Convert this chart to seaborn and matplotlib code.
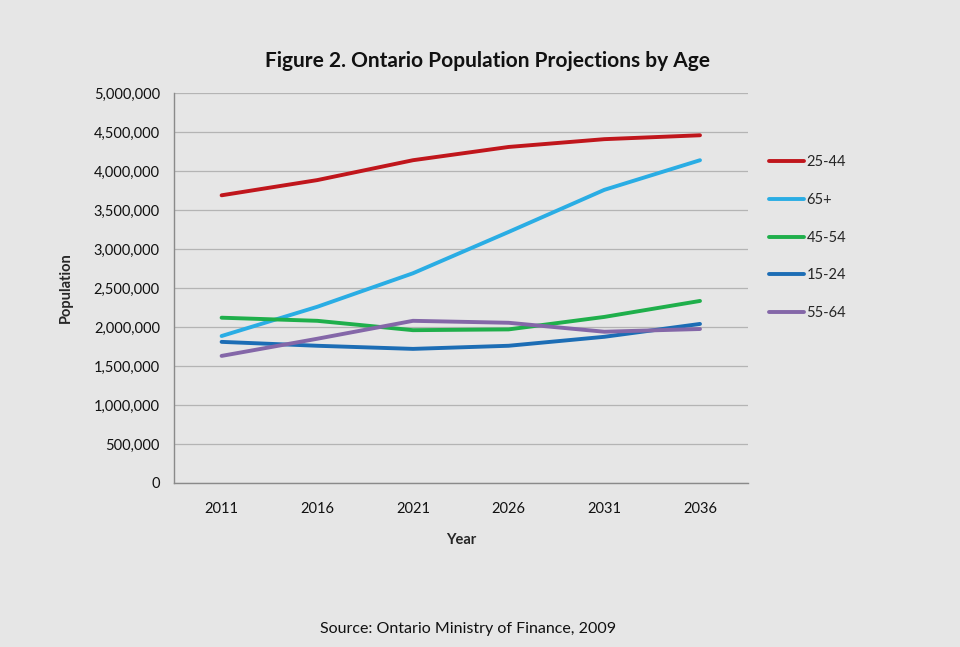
import pandas as pd
import numpy as np
import matplotlib
matplotlib.use('Agg')
import matplotlib.pyplot as plt
import seaborn as sns
from matplotlib.ticker import FuncFormatter, FixedLocator

# data
years = ['2011', '2016', '2021', '2026', '2031', '2036']
groups = ['25-44', '65+', '45-54', '15-24', '55-64']
pop_25_44 = [3690000, 3885000, 4140000, 4310000, 4410000, 4460000]
pop_65_plus = [1885000, 2260000, 2690000, 3220000, 3760000, 4140000]
pop_45_54 = [2120000, 2080000, 1960000, 1970000, 2130000, 2335000]
pop_15_24 = [1810000, 1760000, 1720000, 1760000, 1875000, 2040000]
pop_55_64 = [1630000, 1850000, 2080000, 2055000, 1940000, 1975000]
colors = ['#C0161C', '#2AADE4', '#1FAF4B', '#1C6DB5', '#8467A8']

df = pd.DataFrame({
    'idx': list(range(len(years))) * 5,
    'group': np.repeat(groups, len(years)),
    'value': pop_25_44 + pop_65_plus + pop_45_54 + pop_15_24 + pop_55_64,
})

sns.set_style('white')
plt.rcParams['font.family'] = ['Lato', 'DejaVu Sans']
bg = '#E6E6E6'

fig = plt.figure(figsize=(9.6, 6.47), dpi=100, facecolor=bg)
ax = fig.add_axes([0.181, 0.2535, 0.598, 0.6025], facecolor=bg)

sns.lineplot(data=df, x='idx', y='value', hue='group', hue_order=groups,
             palette=colors, linewidth=2.8, ax=ax, legend=False)

ax.set_xlim(-0.5, len(years) - 0.5)
ax.set_ylim(0, 5000000)
ax.set_yticks(np.arange(0, 5000001, 500000))
ax.yaxis.set_major_formatter(FuncFormatter(lambda v, p: f'{int(v):,}'))
ax.set_xticks(range(len(years)))
ax.set_xticklabels(years)
ax.xaxis.set_minor_locator(FixedLocator(np.arange(-0.5, len(years), 1.0)))
ax.tick_params(axis='x', which='major', length=0, pad=14, labelsize=10.5, labelcolor='#111111')
ax.tick_params(axis='x', which='minor', length=4, color='#8A8A8A', direction='out')
ax.tick_params(axis='y', length=4, color='#8A8A8A', direction='out', labelsize=10.5,
               labelcolor='#111111', pad=6)
ax.grid(axis='y', color='#B4B4B4', linewidth=0.9)
ax.set_axisbelow(True)
for s in ['top', 'right']:
    ax.spines[s].set_visible(False)
for s in ['left', 'bottom']:
    ax.spines[s].set_color('#8A8A8A')
    ax.spines[s].set_linewidth(1.0)

ax.set_xlabel('Year', fontsize=10.5, fontweight='bold', labelpad=12)
ax.set_ylabel('Population', fontsize=10.5, fontweight='bold', labelpad=15)

fig.text(0.508, 0.905, 'Figure 2. Ontario Population Projections by Age',
         ha='center', va='center', fontsize=15, fontweight='bold', color='#111111')
fig.text(0.488, 0.028, 'Source: Ontario Ministry of Finance, 2009',
         ha='center', va='center', fontsize=11.5, color='#111111')

handles = [plt.Line2D([0], [0], color=c, linewidth=2.8) for c in colors]
fig.legend(handles, groups, loc='upper left', bbox_to_anchor=(0.787, 0.78),
           frameon=False, fontsize=10.5, handlelength=2.4, handletextpad=0.2,
           labelspacing=1.62)

plt.savefig('out.png', dpi=100, facecolor=bg)
